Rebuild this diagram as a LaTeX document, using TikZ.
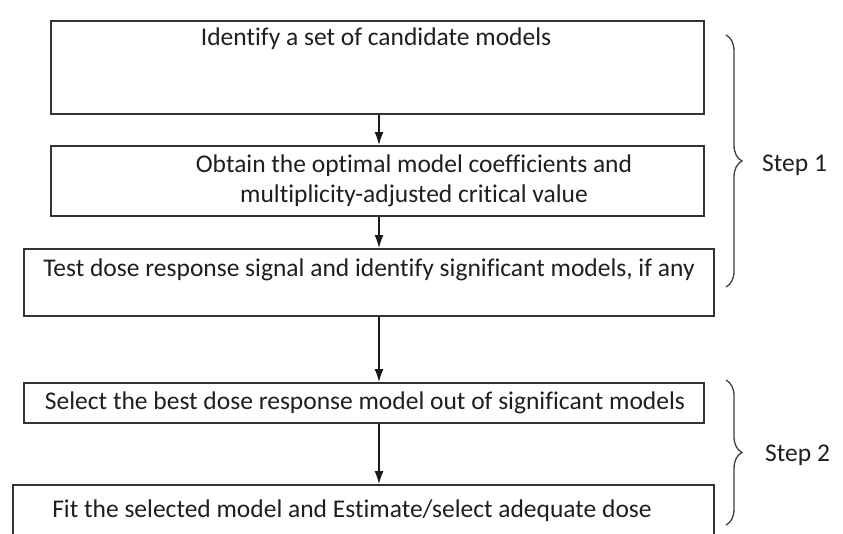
\documentclass[tikz,border=0pt]{standalone}
\usepackage{fontspec}
\setmainfont{Carlito}[RawFeature=-liga]
\usetikzlibrary{arrows.meta,decorations.pathreplacing}
\begin{document}
\begin{tikzpicture}[x=1pt,y=-1pt,
  box/.style={draw=black!80, line width=1.6pt, rectangle, inner sep=0pt, anchor=north west},
  lbl/.style={font=\fontsize{25.5}{30}\selectfont, text=black!88, inner sep=0pt, align=center},
  conn/.style={draw=black!90, line width=1.3pt, -{Latex[length=13pt,width=9pt]}},
  brc/.style={draw=black!75, line width=1.3pt, decorate, decoration={brace, amplitude=16pt, aspect=0.5}}]
\useasboundingbox (0,0) rectangle (843,533);
\clip (0,0) rectangle (843,533);
\fill[white] (0,0) rectangle (843,533);
\coordinate (ax) at (379,0);
% boxes
\node[box, minimum width=653pt, minimum height=93pt] (b1) at (50,20) {};
\node[box, minimum width=653pt, minimum height=70pt] (b2) at (50,145) {};
\node[box, minimum width=690pt, minimum height=67pt] (b3) at (23,248) {};
\node[box, minimum width=680pt, minimum height=40pt] (b4) at (23,382) {};
\node[box, minimum width=701pt, minimum height=70pt] (b5) at (12,484) {};
% texts
\node[lbl] (t1) at (376,39) {Identify a set of candidate models};
\node[lbl] (t2) at (414,181) {Obtain the optimal model coefficients and\\multiplicity-adjusted critical value};
\node[lbl] (t3) at (369,270) {Test dose response signal and identify significant models, if any};
\node[lbl] (t4) at (365,403) {Select the best dose response model out of significant models};
\node[lbl] (t5) at (352,511) {Fit the selected model and Estimate/select adequate dose};
% arrows
\draw[conn] (b1.south -| ax) -- (b2.north -| ax);
\draw[conn] (b2.south -| ax) -- (b3.north -| ax);
\draw[conn] (b3.south -| ax) -- (b4.north -| ax);
\draw[conn] (b4.south -| ax) -- (b5.north -| ax);
% braces
\coordinate (br1a) at (726,35);
\coordinate (br1b) at (726,287);
\coordinate (br2a) at (726,380);
\coordinate (br2b) at (726,525);
\draw[brc] (br1a) -- (br1b);
\draw[brc] (br2a) -- (br2b);
\node[lbl, anchor=west] (s1) at (762,165) {Step 1};
\node[lbl, anchor=west] (s2) at (765,455) {Step 2};
\end{tikzpicture}
\end{document}
